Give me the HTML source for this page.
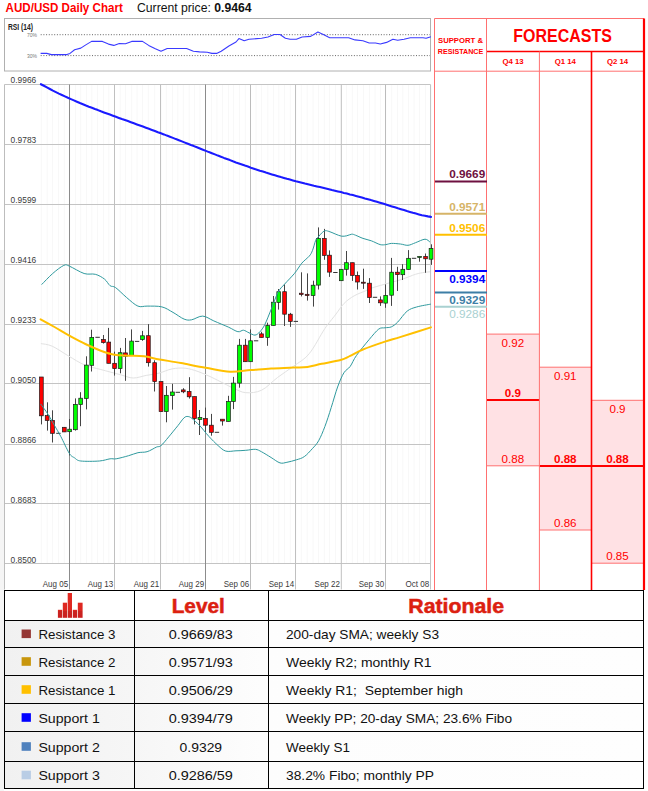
<!DOCTYPE html>
<html><head><meta charset="utf-8"><title>AUD/USD Daily Chart</title>
<style>
html,body{margin:0;padding:0;background:#fff;}
body{width:648px;height:791px;position:relative;overflow:hidden;font-family:"Liberation Sans",Arial,sans-serif;}
svg{position:absolute;left:0;top:0;display:block;}
svg text{font-family:"Liberation Sans",Arial,sans-serif;}
</style></head><body>
<svg width="648" height="791" viewBox="0 0 648 791">

<rect x="0" y="250" width="4" height="541" fill="#f5f5f5"/>
<text x="5.6" y="12.4" font-size="12.4" font-weight="bold" fill="#ff0000" textLength="117.2" lengthAdjust="spacingAndGlyphs">AUD/USD Daily Chart</text>
<text x="137" y="12.4" font-size="12.2" fill="#111">Current price: <tspan font-weight="bold">0.9464</tspan></text>
<rect x="4.5" y="18.5" width="426" height="52.5" fill="#fff" stroke="#b0b0b0" stroke-width="1"/>
<text x="7.9" y="29.8" font-size="8.2" font-weight="bold" fill="#222" textLength="25" lengthAdjust="spacingAndGlyphs">RSI (14)</text>
<text x="27" y="37" font-size="5.8" fill="#777" textLength="10" lengthAdjust="spacingAndGlyphs">70%</text>
<text x="27" y="58.1" font-size="5.8" fill="#777" textLength="10" lengthAdjust="spacingAndGlyphs">30%</text>
<line x1="40.7" y1="34.7" x2="430" y2="34.7" stroke="#555" stroke-width="0.9" stroke-dasharray="1,1.7"/>
<line x1="40.7" y1="55.6" x2="430" y2="55.6" stroke="#555" stroke-width="0.9" stroke-dasharray="1,1.7"/>
<polyline points="40.6,53.4 46.8,53.4 51.4,54.6 66.9,54.6 70.0,53.4 74.6,49.7 80.8,48.1 85.4,45.1 91.6,41.4 102.4,41.4 108.5,44.1 113.8,45.4 119.3,43.5 125.5,43.8 131.7,41.4 142.5,41.4 148.7,45.4 154.8,48.5 161.0,51.2 167.2,48.5 186.6,48.5 193.4,51.2 199.6,51.9 207.3,52.2 211.9,53.4 216.6,53.4 221.2,51.2 228.9,46.0 236.0,42.0 238.9,38.6 244.2,40.8 249.0,39.2 261.6,38.3 268.0,37.0 274.3,34.5 280.0,34.5 285.4,38.3 290.1,39.2 296.4,39.2 302.1,37.0 310.7,36.4 317.9,32.0 323.3,34.5 329.7,37.7 340.7,37.7 348.6,37.7 355.0,39.9 362.9,40.8 369.2,43.0 375.5,43.0 380.3,44.0 386.6,42.4 392.9,39.2 397.7,40.2 404.0,39.2 410.3,37.7 423.0,37.7 426.1,38.3 430.9,36.7" fill="none" stroke="#3a3aff" stroke-width="1.1" stroke-linejoin="round"/>
<rect x="4.5" y="84.5" width="426" height="505" fill="#fff"/>
<line x1="41.35" y1="84.5" x2="41.35" y2="563.5" stroke="#f8f8f8" stroke-width="1"/>
<line x1="47.15" y1="84.5" x2="47.15" y2="563.5" stroke="#f8f8f8" stroke-width="1"/>
<line x1="52.50" y1="84.5" x2="52.50" y2="563.5" stroke="#f8f8f8" stroke-width="1"/>
<line x1="58.40" y1="84.5" x2="58.40" y2="563.5" stroke="#f8f8f8" stroke-width="1"/>
<line x1="64.30" y1="84.5" x2="64.30" y2="563.5" stroke="#f8f8f8" stroke-width="1"/>
<line x1="69.65" y1="84.5" x2="69.65" y2="563.5" stroke="#f8f8f8" stroke-width="1"/>
<line x1="75.40" y1="84.5" x2="75.40" y2="563.5" stroke="#f8f8f8" stroke-width="1"/>
<line x1="80.70" y1="84.5" x2="80.70" y2="563.5" stroke="#f8f8f8" stroke-width="1"/>
<line x1="86.40" y1="84.5" x2="86.40" y2="563.5" stroke="#f8f8f8" stroke-width="1"/>
<line x1="91.75" y1="84.5" x2="91.75" y2="563.5" stroke="#f8f8f8" stroke-width="1"/>
<line x1="97.62" y1="84.5" x2="97.62" y2="563.5" stroke="#f8f8f8" stroke-width="1"/>
<line x1="103.50" y1="84.5" x2="103.50" y2="563.5" stroke="#f8f8f8" stroke-width="1"/>
<line x1="108.75" y1="84.5" x2="108.75" y2="563.5" stroke="#f8f8f8" stroke-width="1"/>
<line x1="114.60" y1="84.5" x2="114.60" y2="563.5" stroke="#f8f8f8" stroke-width="1"/>
<line x1="120.15" y1="84.5" x2="120.15" y2="563.5" stroke="#f8f8f8" stroke-width="1"/>
<line x1="125.45" y1="84.5" x2="125.45" y2="563.5" stroke="#f8f8f8" stroke-width="1"/>
<line x1="131.65" y1="84.5" x2="131.65" y2="563.5" stroke="#f8f8f8" stroke-width="1"/>
<line x1="137.07" y1="84.5" x2="137.07" y2="563.5" stroke="#f8f8f8" stroke-width="1"/>
<line x1="142.50" y1="84.5" x2="142.50" y2="563.5" stroke="#f8f8f8" stroke-width="1"/>
<line x1="148.35" y1="84.5" x2="148.35" y2="563.5" stroke="#f8f8f8" stroke-width="1"/>
<line x1="154.70" y1="84.5" x2="154.70" y2="563.5" stroke="#f8f8f8" stroke-width="1"/>
<line x1="161.05" y1="84.5" x2="161.05" y2="563.5" stroke="#f8f8f8" stroke-width="1"/>
<line x1="166.35" y1="84.5" x2="166.35" y2="563.5" stroke="#f8f8f8" stroke-width="1"/>
<line x1="172.40" y1="84.5" x2="172.40" y2="563.5" stroke="#f8f8f8" stroke-width="1"/>
<line x1="177.82" y1="84.5" x2="177.82" y2="563.5" stroke="#f8f8f8" stroke-width="1"/>
<line x1="183.25" y1="84.5" x2="183.25" y2="563.5" stroke="#f8f8f8" stroke-width="1"/>
<line x1="189.15" y1="84.5" x2="189.15" y2="563.5" stroke="#f8f8f8" stroke-width="1"/>
<line x1="194.55" y1="84.5" x2="194.55" y2="563.5" stroke="#f8f8f8" stroke-width="1"/>
<line x1="199.95" y1="84.5" x2="199.95" y2="563.5" stroke="#f8f8f8" stroke-width="1"/>
<line x1="205.50" y1="84.5" x2="205.50" y2="563.5" stroke="#f8f8f8" stroke-width="1"/>
<line x1="211.40" y1="84.5" x2="211.40" y2="563.5" stroke="#f8f8f8" stroke-width="1"/>
<line x1="216.95" y1="84.5" x2="216.95" y2="563.5" stroke="#f8f8f8" stroke-width="1"/>
<line x1="222.50" y1="84.5" x2="222.50" y2="563.5" stroke="#f8f8f8" stroke-width="1"/>
<line x1="228.45" y1="84.5" x2="228.45" y2="563.5" stroke="#f8f8f8" stroke-width="1"/>
<line x1="233.50" y1="84.5" x2="233.50" y2="563.5" stroke="#f8f8f8" stroke-width="1"/>
<line x1="239.55" y1="84.5" x2="239.55" y2="563.5" stroke="#f8f8f8" stroke-width="1"/>
<line x1="245.35" y1="84.5" x2="245.35" y2="563.5" stroke="#f8f8f8" stroke-width="1"/>
<line x1="250.60" y1="84.5" x2="250.60" y2="563.5" stroke="#f8f8f8" stroke-width="1"/>
<line x1="256.07" y1="84.5" x2="256.07" y2="563.5" stroke="#f8f8f8" stroke-width="1"/>
<line x1="261.55" y1="84.5" x2="261.55" y2="563.5" stroke="#f8f8f8" stroke-width="1"/>
<line x1="267.75" y1="84.5" x2="267.75" y2="563.5" stroke="#f8f8f8" stroke-width="1"/>
<line x1="273.45" y1="84.5" x2="273.45" y2="563.5" stroke="#f8f8f8" stroke-width="1"/>
<line x1="278.75" y1="84.5" x2="278.75" y2="563.5" stroke="#f8f8f8" stroke-width="1"/>
<line x1="284.60" y1="84.5" x2="284.60" y2="563.5" stroke="#f8f8f8" stroke-width="1"/>
<line x1="290.35" y1="84.5" x2="290.35" y2="563.5" stroke="#f8f8f8" stroke-width="1"/>
<line x1="295.80" y1="84.5" x2="295.80" y2="563.5" stroke="#f8f8f8" stroke-width="1"/>
<line x1="301.25" y1="84.5" x2="301.25" y2="563.5" stroke="#f8f8f8" stroke-width="1"/>
<line x1="307.15" y1="84.5" x2="307.15" y2="563.5" stroke="#f8f8f8" stroke-width="1"/>
<line x1="313.10" y1="84.5" x2="313.10" y2="563.5" stroke="#f8f8f8" stroke-width="1"/>
<line x1="318.50" y1="84.5" x2="318.50" y2="563.5" stroke="#f8f8f8" stroke-width="1"/>
<line x1="324.35" y1="84.5" x2="324.35" y2="563.5" stroke="#f8f8f8" stroke-width="1"/>
<line x1="329.50" y1="84.5" x2="329.50" y2="563.5" stroke="#f8f8f8" stroke-width="1"/>
<line x1="335.38" y1="84.5" x2="335.38" y2="563.5" stroke="#f8f8f8" stroke-width="1"/>
<line x1="341.25" y1="84.5" x2="341.25" y2="563.5" stroke="#f8f8f8" stroke-width="1"/>
<line x1="346.45" y1="84.5" x2="346.45" y2="563.5" stroke="#f8f8f8" stroke-width="1"/>
<line x1="352.35" y1="84.5" x2="352.35" y2="563.5" stroke="#f8f8f8" stroke-width="1"/>
<line x1="357.55" y1="84.5" x2="357.55" y2="563.5" stroke="#f8f8f8" stroke-width="1"/>
<line x1="363.40" y1="84.5" x2="363.40" y2="563.5" stroke="#f8f8f8" stroke-width="1"/>
<line x1="369.50" y1="84.5" x2="369.50" y2="563.5" stroke="#f8f8f8" stroke-width="1"/>
<line x1="375.00" y1="84.5" x2="375.00" y2="563.5" stroke="#f8f8f8" stroke-width="1"/>
<line x1="380.50" y1="84.5" x2="380.50" y2="563.5" stroke="#f8f8f8" stroke-width="1"/>
<line x1="385.70" y1="84.5" x2="385.70" y2="563.5" stroke="#f8f8f8" stroke-width="1"/>
<line x1="391.65" y1="84.5" x2="391.65" y2="563.5" stroke="#f8f8f8" stroke-width="1"/>
<line x1="397.50" y1="84.5" x2="397.50" y2="563.5" stroke="#f8f8f8" stroke-width="1"/>
<line x1="402.80" y1="84.5" x2="402.80" y2="563.5" stroke="#f8f8f8" stroke-width="1"/>
<line x1="408.55" y1="84.5" x2="408.55" y2="563.5" stroke="#f8f8f8" stroke-width="1"/>
<line x1="414.05" y1="84.5" x2="414.05" y2="563.5" stroke="#f8f8f8" stroke-width="1"/>
<line x1="419.55" y1="84.5" x2="419.55" y2="563.5" stroke="#f8f8f8" stroke-width="1"/>
<line x1="425.60" y1="84.5" x2="425.60" y2="563.5" stroke="#f8f8f8" stroke-width="1"/>
<line x1="431.05" y1="84.5" x2="431.05" y2="563.5" stroke="#f8f8f8" stroke-width="1"/>
<line x1="4.5" y1="84.50" x2="430.5" y2="84.50" stroke="#c4c4c4" stroke-width="1"/>
<text x="10.6" y="82.80" font-size="8.5" fill="#3a3a3a" textLength="25.6" lengthAdjust="spacingAndGlyphs">0.9966</text>
<line x1="4.5" y1="144.50" x2="430.5" y2="144.50" stroke="#c4c4c4" stroke-width="1"/>
<text x="10.6" y="142.77" font-size="8.5" fill="#3a3a3a" textLength="25.6" lengthAdjust="spacingAndGlyphs">0.9783</text>
<line x1="4.5" y1="204.50" x2="430.5" y2="204.50" stroke="#c4c4c4" stroke-width="1"/>
<text x="10.6" y="202.74" font-size="8.5" fill="#3a3a3a" textLength="25.6" lengthAdjust="spacingAndGlyphs">0.9599</text>
<line x1="4.5" y1="264.50" x2="430.5" y2="264.50" stroke="#c4c4c4" stroke-width="1"/>
<text x="10.6" y="262.71" font-size="8.5" fill="#3a3a3a" textLength="25.6" lengthAdjust="spacingAndGlyphs">0.9416</text>
<line x1="4.5" y1="324.50" x2="430.5" y2="324.50" stroke="#c4c4c4" stroke-width="1"/>
<text x="10.6" y="322.68" font-size="8.5" fill="#3a3a3a" textLength="25.6" lengthAdjust="spacingAndGlyphs">0.9233</text>
<line x1="4.5" y1="383.50" x2="430.5" y2="383.50" stroke="#c4c4c4" stroke-width="1"/>
<text x="10.6" y="382.65" font-size="8.5" fill="#3a3a3a" textLength="25.6" lengthAdjust="spacingAndGlyphs">0.9050</text>
<line x1="4.5" y1="444.50" x2="430.5" y2="444.50" stroke="#c4c4c4" stroke-width="1"/>
<text x="10.6" y="442.62" font-size="8.5" fill="#3a3a3a" textLength="25.6" lengthAdjust="spacingAndGlyphs">0.8866</text>
<line x1="4.5" y1="503.50" x2="430.5" y2="503.50" stroke="#c4c4c4" stroke-width="1"/>
<text x="10.6" y="502.59" font-size="8.5" fill="#3a3a3a" textLength="25.6" lengthAdjust="spacingAndGlyphs">0.8683</text>
<line x1="4.5" y1="563.50" x2="430.5" y2="563.50" stroke="#c4c4c4" stroke-width="1"/>
<text x="10.6" y="562.56" font-size="8.5" fill="#3a3a3a" textLength="25.6" lengthAdjust="spacingAndGlyphs">0.8500</text>
<line x1="69.50" y1="84.5" x2="69.50" y2="589.5" stroke="#8c8c8c" stroke-width="1"/>
<line x1="114.50" y1="84.5" x2="114.50" y2="589.5" stroke="#c0c0c0" stroke-width="1"/>
<line x1="160.50" y1="84.5" x2="160.50" y2="589.5" stroke="#c0c0c0" stroke-width="1"/>
<line x1="205.50" y1="84.5" x2="205.50" y2="589.5" stroke="#8c8c8c" stroke-width="1"/>
<line x1="250.50" y1="84.5" x2="250.50" y2="589.5" stroke="#bcbcbc" stroke-width="1"/>
<line x1="295.50" y1="84.5" x2="295.50" y2="589.5" stroke="#c0c0c0" stroke-width="1"/>
<line x1="341.30" y1="84.5" x2="341.30" y2="589.5" stroke="#c0c0c0" stroke-width="1"/>
<line x1="385.50" y1="84.5" x2="385.50" y2="589.5" stroke="#bcbcbc" stroke-width="1"/>
<text x="68.10" y="586.8" font-size="9" fill="#3a3a3a" text-anchor="end" textLength="25.3" lengthAdjust="spacingAndGlyphs">Aug 05</text>
<text x="113.10" y="586.8" font-size="9" fill="#3a3a3a" text-anchor="end" textLength="25.3" lengthAdjust="spacingAndGlyphs">Aug 13</text>
<text x="159.10" y="586.8" font-size="9" fill="#3a3a3a" text-anchor="end" textLength="25.3" lengthAdjust="spacingAndGlyphs">Aug 21</text>
<text x="204.10" y="586.8" font-size="9" fill="#3a3a3a" text-anchor="end" textLength="25.3" lengthAdjust="spacingAndGlyphs">Aug 29</text>
<text x="249.10" y="586.8" font-size="9" fill="#3a3a3a" text-anchor="end" textLength="25.3" lengthAdjust="spacingAndGlyphs">Sep 06</text>
<text x="294.10" y="586.8" font-size="9" fill="#3a3a3a" text-anchor="end" textLength="25.3" lengthAdjust="spacingAndGlyphs">Sep 14</text>
<text x="339.90" y="586.8" font-size="9" fill="#3a3a3a" text-anchor="end" textLength="25.3" lengthAdjust="spacingAndGlyphs">Sep 22</text>
<text x="384.10" y="586.8" font-size="9" fill="#3a3a3a" text-anchor="end" textLength="25.3" lengthAdjust="spacingAndGlyphs">Sep 30</text>
<text x="429.20" y="586.8" font-size="9" fill="#3a3a3a" text-anchor="end" textLength="23.8" lengthAdjust="spacingAndGlyphs">Oct 08</text>
<line x1="4.5" y1="84.5" x2="4.5" y2="589.5" stroke="#bdbdbd" stroke-width="1"/>
<line x1="430.5" y1="84.5" x2="430.5" y2="589.5" stroke="#c4c4c4" stroke-width="1"/>
<path d="M40.9,343.6 C42.8,344.0 47.6,344.1 52.2,346.2 C56.8,348.2 63.0,352.8 68.4,355.9 C73.8,359.0 79.2,362.7 84.6,365.0 C90.0,367.3 94.8,367.9 100.8,369.5 C106.8,371.1 114.9,373.3 120.3,374.7 C125.7,376.1 128.9,377.9 133.2,378.0 C137.5,378.1 141.9,376.2 146.2,375.4 C150.5,374.6 154.8,374.2 159.1,373.1 C163.4,372.0 167.8,369.7 172.1,368.9 C176.4,368.1 180.8,367.8 185.1,368.2 C189.4,368.6 193.7,370.0 198.0,371.5 C202.3,373.0 206.7,375.0 211.0,377.0 C215.3,379.0 220.2,381.6 224.0,383.5 C227.8,385.4 230.1,386.8 233.7,388.3 C237.3,389.8 241.2,392.4 245.8,392.7 C250.5,393.0 256.3,392.7 261.6,390.2 C266.9,387.7 272.2,381.5 277.5,377.5 C282.8,373.5 288.0,370.3 293.3,366.4 C298.6,362.4 303.8,360.1 309.1,353.8 C314.4,347.5 320.5,335.0 324.9,328.5 C329.3,322.0 332.1,319.2 335.3,315.0 C338.5,310.8 341.0,306.6 344.1,303.4 C347.2,300.2 350.6,297.9 354.2,295.8 C357.8,293.7 362.8,292.1 365.6,290.8 C368.5,289.5 368.2,289.3 371.3,288.2 C374.4,287.1 378.9,285.9 384.0,284.4 C389.1,282.9 396.4,281.1 401.6,279.4 C406.9,277.7 411.7,275.5 415.5,274.3 C419.3,273.1 422.0,272.8 424.4,272.4 C426.8,272.0 429.1,271.9 430.0,271.8" fill="none" stroke="#e2e2e2" stroke-width="1"/>
<line x1="41.50" y1="377.00" x2="41.50" y2="424.40" stroke="#444" stroke-width="1"/>
<rect x="39.45" y="377.00" width="3.8" height="38.80" fill="#ff0000" stroke="#1a1a1a" stroke-width="0.7"/>
<line x1="47.50" y1="402.30" x2="47.50" y2="430.60" stroke="#444" stroke-width="1"/>
<rect x="45.25" y="415.60" width="3.8" height="4.90" fill="#ff0000" stroke="#1a1a1a" stroke-width="0.7"/>
<line x1="52.50" y1="410.30" x2="52.50" y2="442.50" stroke="#444" stroke-width="1"/>
<rect x="50.60" y="420.40" width="3.8" height="12.90" fill="#ff0000" stroke="#1a1a1a" stroke-width="0.7"/>
<line x1="56.20" y1="433.30" x2="60.60" y2="433.30" stroke="#333" stroke-width="1"/>
<line x1="64.50" y1="427.30" x2="64.50" y2="431.90" stroke="#444" stroke-width="1"/>
<rect x="62.40" y="427.30" width="3.8" height="4.60" fill="#ff0000" stroke="#1a1a1a" stroke-width="0.7"/>
<line x1="69.50" y1="419.00" x2="69.50" y2="455.40" stroke="#444" stroke-width="1"/>
<rect x="67.75" y="429.20" width="3.8" height="2.50" fill="#00ff00" stroke="#1a1a1a" stroke-width="0.7"/>
<line x1="75.50" y1="398.40" x2="75.50" y2="430.60" stroke="#444" stroke-width="1"/>
<rect x="73.50" y="404.40" width="3.8" height="25.30" fill="#00ff00" stroke="#1a1a1a" stroke-width="0.7"/>
<line x1="80.50" y1="392.20" x2="80.50" y2="426.20" stroke="#444" stroke-width="1"/>
<rect x="78.80" y="398.20" width="3.8" height="6.40" fill="#00ff00" stroke="#1a1a1a" stroke-width="0.7"/>
<line x1="86.50" y1="356.30" x2="86.50" y2="409.40" stroke="#444" stroke-width="1"/>
<rect x="84.50" y="365.10" width="3.8" height="33.30" fill="#00ff00" stroke="#1a1a1a" stroke-width="0.7"/>
<line x1="91.50" y1="329.70" x2="91.50" y2="371.50" stroke="#444" stroke-width="1"/>
<rect x="89.85" y="337.40" width="3.8" height="27.90" fill="#00ff00" stroke="#1a1a1a" stroke-width="0.7"/>
<line x1="95.42" y1="337.30" x2="99.83" y2="337.30" stroke="#333" stroke-width="1"/>
<line x1="103.50" y1="335.00" x2="103.50" y2="343.60" stroke="#444" stroke-width="1"/>
<rect x="101.60" y="339.50" width="3.8" height="3.10" fill="#ff0000" stroke="#1a1a1a" stroke-width="0.7"/>
<line x1="108.50" y1="327.90" x2="108.50" y2="363.30" stroke="#444" stroke-width="1"/>
<rect x="106.85" y="342.10" width="3.8" height="21.20" fill="#ff0000" stroke="#1a1a1a" stroke-width="0.7"/>
<line x1="114.50" y1="351.70" x2="114.50" y2="375.60" stroke="#444" stroke-width="1"/>
<rect x="112.70" y="363.30" width="3.8" height="5.30" fill="#ff0000" stroke="#1a1a1a" stroke-width="0.7"/>
<line x1="120.50" y1="347.90" x2="120.50" y2="373.30" stroke="#444" stroke-width="1"/>
<rect x="118.25" y="352.70" width="3.8" height="15.90" fill="#00ff00" stroke="#1a1a1a" stroke-width="0.7"/>
<line x1="125.50" y1="338.00" x2="125.50" y2="380.80" stroke="#444" stroke-width="1"/>
<rect x="123.55" y="352.90" width="3.8" height="3.30" fill="#ff0000" stroke="#1a1a1a" stroke-width="0.7"/>
<line x1="131.50" y1="329.40" x2="131.50" y2="355.50" stroke="#444" stroke-width="1"/>
<rect x="129.75" y="341.10" width="3.8" height="14.40" fill="#00ff00" stroke="#1a1a1a" stroke-width="0.7"/>
<line x1="134.88" y1="341.40" x2="139.27" y2="341.40" stroke="#333" stroke-width="1"/>
<line x1="142.50" y1="330.90" x2="142.50" y2="340.80" stroke="#444" stroke-width="1"/>
<rect x="140.60" y="335.80" width="3.8" height="3.70" fill="#00ff00" stroke="#1a1a1a" stroke-width="0.7"/>
<line x1="148.50" y1="324.10" x2="148.50" y2="366.60" stroke="#444" stroke-width="1"/>
<rect x="146.45" y="335.70" width="3.8" height="27.00" fill="#ff0000" stroke="#1a1a1a" stroke-width="0.7"/>
<line x1="154.50" y1="360.30" x2="154.50" y2="391.50" stroke="#444" stroke-width="1"/>
<rect x="152.80" y="362.70" width="3.8" height="18.90" fill="#ff0000" stroke="#1a1a1a" stroke-width="0.7"/>
<line x1="161.50" y1="381.60" x2="161.50" y2="411.60" stroke="#444" stroke-width="1"/>
<rect x="159.15" y="381.60" width="3.8" height="30.00" fill="#ff0000" stroke="#1a1a1a" stroke-width="0.7"/>
<line x1="166.50" y1="386.00" x2="166.50" y2="422.30" stroke="#444" stroke-width="1"/>
<rect x="164.45" y="395.30" width="3.8" height="16.30" fill="#00ff00" stroke="#1a1a1a" stroke-width="0.7"/>
<line x1="172.50" y1="383.80" x2="172.50" y2="409.60" stroke="#444" stroke-width="1"/>
<rect x="170.50" y="392.00" width="3.8" height="3.60" fill="#00ff00" stroke="#1a1a1a" stroke-width="0.7"/>
<line x1="175.62" y1="392.30" x2="180.02" y2="392.30" stroke="#333" stroke-width="1"/>
<line x1="183.50" y1="388.20" x2="183.50" y2="393.20" stroke="#444" stroke-width="1"/>
<rect x="181.35" y="389.90" width="3.8" height="1.90" fill="#ff0000" stroke="#1a1a1a" stroke-width="0.7"/>
<line x1="189.50" y1="377.20" x2="189.50" y2="398.60" stroke="#444" stroke-width="1"/>
<rect x="187.25" y="391.50" width="3.8" height="5.30" fill="#ff0000" stroke="#1a1a1a" stroke-width="0.7"/>
<line x1="194.50" y1="396.60" x2="194.50" y2="424.40" stroke="#444" stroke-width="1"/>
<rect x="192.65" y="396.60" width="3.8" height="22.00" fill="#ff0000" stroke="#1a1a1a" stroke-width="0.7"/>
<line x1="199.50" y1="410.00" x2="199.50" y2="435.00" stroke="#444" stroke-width="1"/>
<rect x="198.05" y="417.50" width="3.8" height="2.00" fill="#00ff00" stroke="#1a1a1a" stroke-width="0.7"/>
<line x1="205.50" y1="407.60" x2="205.50" y2="431.90" stroke="#444" stroke-width="1"/>
<rect x="203.60" y="418.60" width="3.8" height="6.60" fill="#ff0000" stroke="#1a1a1a" stroke-width="0.7"/>
<line x1="211.50" y1="413.90" x2="211.50" y2="435.70" stroke="#444" stroke-width="1"/>
<rect x="209.50" y="425.20" width="3.8" height="7.10" fill="#ff0000" stroke="#1a1a1a" stroke-width="0.7"/>
<line x1="214.75" y1="432.30" x2="219.15" y2="432.30" stroke="#333" stroke-width="1"/>
<line x1="222.50" y1="419.20" x2="222.50" y2="425.60" stroke="#444" stroke-width="1"/>
<rect x="220.60" y="419.20" width="3.8" height="1.80" fill="#ff0000" stroke="#1a1a1a" stroke-width="0.7"/>
<line x1="228.50" y1="395.80" x2="228.50" y2="421.40" stroke="#444" stroke-width="1"/>
<rect x="226.55" y="401.50" width="3.8" height="19.90" fill="#00ff00" stroke="#1a1a1a" stroke-width="0.7"/>
<line x1="233.50" y1="376.90" x2="233.50" y2="409.10" stroke="#444" stroke-width="1"/>
<rect x="231.60" y="383.10" width="3.8" height="18.40" fill="#00ff00" stroke="#1a1a1a" stroke-width="0.7"/>
<line x1="239.50" y1="338.90" x2="239.50" y2="387.70" stroke="#444" stroke-width="1"/>
<rect x="237.65" y="345.20" width="3.8" height="37.90" fill="#00ff00" stroke="#1a1a1a" stroke-width="0.7"/>
<line x1="245.50" y1="338.90" x2="245.50" y2="361.70" stroke="#444" stroke-width="1"/>
<rect x="243.45" y="345.20" width="3.8" height="16.50" fill="#ff0000" stroke="#1a1a1a" stroke-width="0.7"/>
<line x1="250.50" y1="329.40" x2="250.50" y2="361.70" stroke="#444" stroke-width="1"/>
<rect x="248.70" y="340.80" width="3.8" height="20.90" fill="#00ff00" stroke="#1a1a1a" stroke-width="0.7"/>
<line x1="253.88" y1="340.80" x2="258.27" y2="340.80" stroke="#333" stroke-width="1"/>
<line x1="261.50" y1="331.80" x2="261.50" y2="337.50" stroke="#444" stroke-width="1"/>
<rect x="259.65" y="333.90" width="3.8" height="3.60" fill="#ff0000" stroke="#1a1a1a" stroke-width="0.7"/>
<line x1="267.50" y1="322.70" x2="267.50" y2="345.80" stroke="#444" stroke-width="1"/>
<rect x="265.85" y="325.50" width="3.8" height="12.00" fill="#00ff00" stroke="#1a1a1a" stroke-width="0.7"/>
<line x1="273.50" y1="296.00" x2="273.50" y2="325.50" stroke="#444" stroke-width="1"/>
<rect x="271.55" y="302.20" width="3.8" height="23.30" fill="#00ff00" stroke="#1a1a1a" stroke-width="0.7"/>
<line x1="278.50" y1="289.00" x2="278.50" y2="309.60" stroke="#444" stroke-width="1"/>
<rect x="276.85" y="291.70" width="3.8" height="10.80" fill="#00ff00" stroke="#1a1a1a" stroke-width="0.7"/>
<line x1="284.50" y1="284.40" x2="284.50" y2="326.00" stroke="#444" stroke-width="1"/>
<rect x="282.70" y="291.70" width="3.8" height="22.50" fill="#ff0000" stroke="#1a1a1a" stroke-width="0.7"/>
<line x1="290.50" y1="312.90" x2="290.50" y2="326.90" stroke="#444" stroke-width="1"/>
<rect x="288.45" y="314.20" width="3.8" height="7.20" fill="#ff0000" stroke="#1a1a1a" stroke-width="0.7"/>
<line x1="293.60" y1="321.40" x2="298.00" y2="321.40" stroke="#333" stroke-width="1"/>
<line x1="301.50" y1="272.30" x2="301.50" y2="296.40" stroke="#444" stroke-width="1"/>
<rect x="299.35" y="293.20" width="3.8" height="1.30" fill="#ff0000" stroke="#1a1a1a" stroke-width="0.7"/>
<line x1="307.50" y1="273.40" x2="307.50" y2="300.60" stroke="#444" stroke-width="1"/>
<rect x="305.25" y="294.30" width="3.8" height="1.30" fill="#ff0000" stroke="#1a1a1a" stroke-width="0.7"/>
<line x1="313.50" y1="280.70" x2="313.50" y2="306.60" stroke="#444" stroke-width="1"/>
<rect x="311.20" y="285.20" width="3.8" height="10.40" fill="#00ff00" stroke="#1a1a1a" stroke-width="0.7"/>
<line x1="318.50" y1="227.40" x2="318.50" y2="289.50" stroke="#444" stroke-width="1"/>
<rect x="316.60" y="238.40" width="3.8" height="46.70" fill="#00ff00" stroke="#1a1a1a" stroke-width="0.7"/>
<line x1="324.50" y1="228.90" x2="324.50" y2="259.80" stroke="#444" stroke-width="1"/>
<rect x="322.45" y="238.40" width="3.8" height="17.00" fill="#ff0000" stroke="#1a1a1a" stroke-width="0.7"/>
<line x1="329.50" y1="250.40" x2="329.50" y2="276.90" stroke="#444" stroke-width="1"/>
<rect x="327.60" y="255.20" width="3.8" height="16.90" fill="#ff0000" stroke="#1a1a1a" stroke-width="0.7"/>
<line x1="333.18" y1="272.50" x2="337.57" y2="272.50" stroke="#333" stroke-width="1"/>
<line x1="341.50" y1="269.30" x2="341.50" y2="280.70" stroke="#444" stroke-width="1"/>
<rect x="339.35" y="269.30" width="3.8" height="11.40" fill="#00ff00" stroke="#1a1a1a" stroke-width="0.7"/>
<line x1="346.50" y1="251.00" x2="346.50" y2="275.60" stroke="#444" stroke-width="1"/>
<rect x="344.55" y="262.70" width="3.8" height="6.60" fill="#00ff00" stroke="#1a1a1a" stroke-width="0.7"/>
<line x1="352.50" y1="262.70" x2="352.50" y2="280.90" stroke="#444" stroke-width="1"/>
<rect x="350.45" y="262.70" width="3.8" height="12.70" fill="#ff0000" stroke="#1a1a1a" stroke-width="0.7"/>
<line x1="357.50" y1="271.50" x2="357.50" y2="289.50" stroke="#444" stroke-width="1"/>
<rect x="355.65" y="275.40" width="3.8" height="6.60" fill="#ff0000" stroke="#1a1a1a" stroke-width="0.7"/>
<line x1="363.50" y1="268.70" x2="363.50" y2="288.90" stroke="#444" stroke-width="1"/>
<rect x="361.50" y="282.20" width="3.8" height="1.00" fill="#ff0000" stroke="#1a1a1a" stroke-width="0.7"/>
<line x1="369.50" y1="278.10" x2="369.50" y2="303.00" stroke="#444" stroke-width="1"/>
<rect x="367.60" y="283.20" width="3.8" height="14.30" fill="#ff0000" stroke="#1a1a1a" stroke-width="0.7"/>
<line x1="372.80" y1="297.30" x2="377.20" y2="297.30" stroke="#333" stroke-width="1"/>
<line x1="380.50" y1="296.40" x2="380.50" y2="305.90" stroke="#444" stroke-width="1"/>
<rect x="378.60" y="299.90" width="3.8" height="2.90" fill="#ff0000" stroke="#1a1a1a" stroke-width="0.7"/>
<line x1="385.50" y1="284.40" x2="385.50" y2="307.80" stroke="#444" stroke-width="1"/>
<rect x="383.80" y="295.40" width="3.8" height="7.70" fill="#00ff00" stroke="#1a1a1a" stroke-width="0.7"/>
<line x1="391.50" y1="257.90" x2="391.50" y2="305.90" stroke="#444" stroke-width="1"/>
<rect x="389.75" y="272.20" width="3.8" height="23.00" fill="#00ff00" stroke="#1a1a1a" stroke-width="0.7"/>
<line x1="397.50" y1="266.80" x2="397.50" y2="291.00" stroke="#444" stroke-width="1"/>
<rect x="395.60" y="272.20" width="3.8" height="2.40" fill="#ff0000" stroke="#1a1a1a" stroke-width="0.7"/>
<line x1="402.50" y1="264.20" x2="402.50" y2="280.00" stroke="#444" stroke-width="1"/>
<rect x="400.90" y="269.30" width="3.8" height="5.40" fill="#00ff00" stroke="#1a1a1a" stroke-width="0.7"/>
<line x1="408.50" y1="250.10" x2="408.50" y2="269.50" stroke="#444" stroke-width="1"/>
<rect x="406.65" y="258.30" width="3.8" height="11.20" fill="#00ff00" stroke="#1a1a1a" stroke-width="0.7"/>
<line x1="411.85" y1="258.30" x2="416.25" y2="258.30" stroke="#333" stroke-width="1"/>
<line x1="419.50" y1="256.40" x2="419.50" y2="261.70" stroke="#444" stroke-width="1"/>
<rect x="417.65" y="256.40" width="3.8" height="1.10" fill="#00ff00" stroke="#1a1a1a" stroke-width="0.7"/>
<line x1="425.50" y1="253.50" x2="425.50" y2="272.80" stroke="#444" stroke-width="1"/>
<rect x="423.70" y="256.40" width="3.8" height="2.40" fill="#ff0000" stroke="#1a1a1a" stroke-width="0.7"/>
<line x1="431.50" y1="244.30" x2="431.50" y2="264.90" stroke="#444" stroke-width="1"/>
<rect x="429.15" y="248.40" width="3.8" height="10.80" fill="#00ff00" stroke="#1a1a1a" stroke-width="0.7"/>
<path d="M41.6,284.6 C43.5,282.8 49.0,276.7 52.7,273.5 C56.4,270.3 61.0,266.6 63.8,265.4 C66.6,264.2 65.9,264.8 69.3,266.1 C72.7,267.5 79.8,272.1 84.1,273.5 C88.4,274.9 91.9,273.4 95.3,274.3 C98.7,275.2 102.0,277.2 104.5,279.1 C107.0,281.0 108.2,284.3 110.1,285.7 C111.9,287.1 112.8,285.6 115.6,287.6 C118.4,289.6 123.0,294.5 126.7,297.6 C130.4,300.7 134.5,304.7 137.9,306.1 C141.3,307.5 143.1,306.0 147.1,306.1 C151.1,306.2 157.6,305.8 161.9,306.9 C166.2,307.9 169.3,310.4 173.0,312.4 C176.7,314.4 181.0,317.9 184.1,319.1 C187.2,320.3 188.5,320.3 191.6,319.8 C194.7,319.3 199.0,315.9 202.7,316.1 C206.4,316.3 209.5,319.0 213.8,320.9 C218.1,322.8 224.6,325.4 228.6,327.2 C232.6,329.0 235.4,331.2 237.9,331.7 C240.4,332.2 241.6,330.0 243.4,330.2 C245.2,330.4 247.1,332.0 249.0,332.8 C250.9,333.6 253.2,335.3 255.0,335.1 C256.8,334.9 258.2,333.6 259.9,331.8 C261.5,330.0 263.0,328.2 264.9,324.4 C266.8,320.6 269.2,314.1 271.4,308.8 C273.6,303.5 275.8,296.4 278.0,292.3 C280.2,288.2 281.9,287.2 284.6,284.1 C287.4,281.0 291.6,276.9 294.5,273.4 C297.4,269.9 299.4,266.0 301.9,263.1 C304.3,260.2 307.4,258.3 309.2,256.2 C311.0,254.1 311.4,253.1 312.5,250.4 C313.6,247.8 314.8,242.4 315.7,240.3 C316.6,238.2 316.2,239.2 317.6,237.7 C319.0,236.2 322.0,232.2 323.9,231.2 C325.8,230.1 327.0,230.9 328.9,231.4 C330.8,231.9 333.2,233.2 335.3,234.0 C337.4,234.8 339.7,235.9 341.6,236.2 C343.5,236.5 344.9,236.1 346.6,235.8 C348.3,235.5 350.2,234.3 351.7,234.2 C353.2,234.1 353.6,234.5 355.5,235.2 C357.4,235.9 360.4,237.5 363.0,238.4 C365.6,239.3 368.4,239.8 371.3,240.8 C374.2,241.8 377.8,244.0 380.2,244.6 C382.6,245.2 383.9,244.8 385.8,244.6 C387.7,244.4 389.1,243.5 391.5,243.4 C393.9,243.3 397.6,243.7 400.4,244.0 C403.1,244.3 405.5,245.5 408.0,245.3 C410.5,245.1 412.7,243.7 415.5,242.7 C418.3,241.7 422.6,239.3 425.0,239.2 C427.4,239.1 429.2,241.6 430.0,242.1" fill="none" stroke="#2f9a9e" stroke-width="1"/>
<path d="M40.6,403.9 C41.9,405.7 46.0,411.1 48.3,414.7 C50.6,418.3 52.4,421.9 54.5,425.5 C56.6,429.1 58.2,431.7 60.7,436.3 C63.2,440.9 67.0,449.7 69.3,453.3 C71.6,456.9 72.7,456.6 74.6,457.9 C76.5,459.2 76.7,460.5 80.8,461.0 C84.9,461.5 94.4,461.4 99.3,461.0 C104.2,460.6 107.3,459.2 110.1,458.8 C112.9,458.4 113.1,459.3 116.2,458.8 C119.3,458.3 125.0,456.7 128.6,455.7 C132.2,454.7 134.8,453.4 137.9,452.7 C141.0,452.0 144.0,452.6 147.1,451.7 C150.2,450.8 154.1,448.1 156.4,447.1 C158.7,446.1 158.9,447.3 161.0,445.6 C163.1,443.9 165.9,440.2 168.7,436.9 C171.5,433.5 175.4,428.7 178.0,425.5 C180.6,422.3 182.4,419.3 184.1,417.8 C185.8,416.3 186.6,416.4 187.9,416.5 C189.2,416.6 190.0,416.9 191.9,418.4 C193.8,419.9 196.8,422.5 199.6,425.5 C202.4,428.5 205.7,432.9 208.8,436.3 C211.9,439.7 215.3,443.1 218.1,445.6 C220.9,448.1 222.8,450.2 225.8,451.1 C228.8,452.0 232.7,450.9 236.0,450.8 C239.3,450.7 242.6,450.6 245.8,450.3 C249.0,450.1 252.7,449.1 255.3,449.3 C257.9,449.6 259.0,450.4 261.6,451.8 C264.2,453.2 268.0,455.6 271.1,457.5 C274.2,459.4 277.4,462.1 280.0,462.9 C282.6,463.7 284.2,462.8 286.9,462.3 C289.6,461.8 293.5,460.8 296.4,459.8 C299.3,458.9 301.6,458.5 304.3,456.6 C307.0,454.8 309.9,451.3 312.3,448.7 C314.7,446.1 316.5,444.5 318.6,440.8 C320.7,437.1 322.8,432.0 324.9,426.5 C327.0,421.0 329.1,414.2 331.2,407.6 C333.3,401.0 335.5,392.8 337.6,387.0 C339.7,381.2 341.8,376.2 343.9,372.8 C346.0,369.4 348.1,369.3 350.2,366.4 C352.3,363.5 353.3,359.9 356.5,355.4 C359.7,350.9 365.5,343.9 369.2,339.5 C372.9,335.1 376.1,331.1 378.7,329.1 C381.3,327.2 382.9,328.2 385.0,327.8 C387.1,327.4 389.2,327.8 391.3,326.9 C393.4,325.9 395.1,324.7 397.7,322.1 C400.3,319.5 404.0,313.6 407.2,311.1 C410.4,308.6 412.7,308.2 416.6,307.0 C420.6,305.8 428.5,304.6 430.9,304.1" fill="none" stroke="#2f9a9e" stroke-width="1"/>
<path d="M40.6,319.3 C42.9,320.6 49.7,324.3 54.5,327.0 C59.3,329.7 64.1,332.8 69.3,335.6 C74.5,338.4 80.2,341.5 85.4,344.0 C90.7,346.5 95.9,348.9 100.8,350.7 C105.7,352.5 110.1,354.0 114.7,354.8 C119.3,355.6 123.7,355.4 128.6,355.7 C133.5,355.9 138.8,355.7 144.0,356.3 C149.2,356.9 153.3,358.3 159.5,359.4 C165.7,360.5 173.3,361.7 181.0,363.1 C188.7,364.5 197.5,366.3 205.7,367.7 C213.9,369.1 222.5,371.3 230.0,371.7 C237.5,372.1 243.8,370.6 250.6,370.1 C257.4,369.6 264.0,368.9 271.1,368.5 C278.2,368.1 287.2,367.9 293.3,367.6 C299.4,367.3 302.8,367.5 307.5,366.9 C312.2,366.3 316.2,364.9 321.7,363.8 C327.2,362.7 335.9,361.3 340.7,360.0 C345.4,358.7 346.5,357.6 350.2,355.9 C353.9,354.1 357.1,351.9 362.9,349.5 C368.7,347.1 378.7,343.7 385.0,341.6 C391.3,339.5 393.2,339.3 400.8,336.9 C408.4,334.5 425.9,329.0 430.9,327.4" fill="none" stroke="#ffc000" stroke-width="2.0" stroke-linecap="round"/>
<polyline points="40.9,84.2 43.9,85.8 46.9,87.4 49.9,89.0 52.9,90.6 55.9,92.1 58.9,93.6 61.9,95.0 64.9,96.4 67.9,97.8 70.9,99.1 73.9,100.4 76.9,101.7 79.9,103.0 82.9,104.2 85.9,105.5 88.9,106.7 91.9,107.8 94.9,109.0 97.9,110.1 100.9,111.3 103.9,112.4 106.9,113.5 109.9,114.6 112.9,115.7 115.9,116.8 118.9,117.9 121.9,119.0 124.9,120.0 127.9,121.1 130.9,122.2 133.9,123.3 136.9,124.4 139.9,125.5 142.9,126.6 145.9,127.7 148.9,128.8 151.9,129.9 154.9,131.0 157.9,132.2 160.9,133.3 163.9,134.4 166.9,135.6 169.9,136.7 172.9,137.9 175.9,139.1 178.9,140.2 181.9,141.4 184.9,142.6 187.9,143.8 190.9,145.0 193.9,146.1 196.9,147.3 199.9,148.5 202.9,149.7 205.9,150.9 208.9,152.1 211.9,153.2 214.9,154.4 217.9,155.6 220.9,156.7 223.9,157.9 226.9,159.0 229.9,160.1 232.9,161.3 235.9,162.4 238.9,163.4 241.9,164.5 244.9,165.6 247.9,166.6 250.9,167.7 253.9,168.7 256.9,169.7 259.9,170.7 262.9,171.6 265.9,172.6 268.9,173.5 271.9,174.4 274.9,175.3 277.9,176.2 280.9,177.1 283.9,177.9 286.9,178.8 289.9,179.6 292.9,180.4 295.9,181.2 298.9,181.9 301.9,182.7 304.9,183.5 307.9,184.2 310.9,184.9 313.9,185.7 316.9,186.4 319.9,187.1 322.9,187.8 325.9,188.5 328.9,189.2 331.9,190.0 334.9,190.7 337.9,191.4 340.9,192.1 343.9,192.9 346.9,193.6 349.9,194.4 352.9,195.1 355.9,195.9 358.9,196.7 361.9,197.5 364.9,198.4 367.9,199.2 370.9,200.1 373.9,200.9 376.9,201.8 379.9,202.7 382.9,203.6 385.9,204.5 388.9,205.5 391.9,206.4 394.9,207.3 397.9,208.3 400.9,209.2 403.9,210.1 406.9,211.1 409.9,211.9 412.9,212.8 415.9,213.6 418.9,214.4 421.9,215.2 424.9,215.8 427.9,216.4 430.9,216.9 431.0,216.9" fill="none" stroke="#1a1aff" stroke-width="2.1" stroke-linecap="round" stroke-linejoin="round"/>
<rect x="486.5" y="334.1" width="52.9" height="131.7" fill="#ffe1e4"/>
<rect x="539.4" y="367.2" width="52.1" height="162.8" fill="#ffe1e4"/>
<rect x="591.5" y="400.3" width="52.0" height="162.9" fill="#ffe1e4"/>
<line x1="486.5" y1="334.1" x2="539.4" y2="334.1" stroke="#ff7070" stroke-width="1.0"/>
<line x1="486.5" y1="465.8" x2="539.4" y2="465.8" stroke="#ff7070" stroke-width="1.0"/>
<line x1="539.4" y1="367.2" x2="591.5" y2="367.2" stroke="#ff7070" stroke-width="1.0"/>
<line x1="539.4" y1="530.0" x2="591.5" y2="530.0" stroke="#ff7070" stroke-width="1.0"/>
<line x1="591.5" y1="400.3" x2="643.5" y2="400.3" stroke="#ff7070" stroke-width="1.0"/>
<line x1="591.5" y1="563.2" x2="643.5" y2="563.2" stroke="#ff7070" stroke-width="1.0"/>
<line x1="486.5" y1="400.0" x2="539.4" y2="400.0" stroke="#ff0000" stroke-width="2.2"/>
<line x1="539.4" y1="466.0" x2="644.0" y2="466.0" stroke="#ff0000" stroke-width="2.2"/>
<line x1="434.5" y1="18.5" x2="644.0" y2="18.5" stroke="#ff7070" stroke-width="1.0"/>
<line x1="486.5" y1="51.5" x2="644.0" y2="51.5" stroke="#ff0000" stroke-width="1.6"/>
<line x1="434.5" y1="71.2" x2="644.0" y2="71.2" stroke="#ff7070" stroke-width="1.0"/>
<line x1="434.5" y1="18.5" x2="434.5" y2="590.0" stroke="#ff7070" stroke-width="1.0"/>
<line x1="486.5" y1="18.5" x2="486.5" y2="590.0" stroke="#ff7070" stroke-width="1.0"/>
<line x1="539.4" y1="51.5" x2="539.4" y2="590.0" stroke="#ff7070" stroke-width="1.0"/>
<line x1="591.5" y1="51.5" x2="591.5" y2="590.0" stroke="#ff0000" stroke-width="1.6"/>
<line x1="644.0" y1="18.5" x2="644.0" y2="590.0" stroke="#ff0000" stroke-width="2.2"/>
<text x="460.5" y="43" font-size="7.4" font-weight="bold" fill="#ff0000" text-anchor="middle" textLength="45" lengthAdjust="spacingAndGlyphs">SUPPORT &amp;</text>
<text x="460.5" y="54.2" font-size="7.4" font-weight="bold" fill="#ff0000" text-anchor="middle" textLength="45.5" lengthAdjust="spacingAndGlyphs">RESISTANCE</text>
<text x="513.3" y="42.3" font-size="18.2" font-weight="bold" fill="#ff0000" textLength="98.5" lengthAdjust="spacingAndGlyphs">FORECASTS</text>
<text x="513.0" y="64.3" font-size="7.8" font-weight="bold" fill="#ff0000" text-anchor="middle">Q4 13</text>
<text x="565.3" y="64.3" font-size="7.8" font-weight="bold" fill="#ff0000" text-anchor="middle">Q1 14</text>
<text x="617.5" y="64.3" font-size="7.8" font-weight="bold" fill="#ff0000" text-anchor="middle">Q2 14</text>
<line x1="435" y1="181.6" x2="487" y2="181.6" stroke="#6e1040" stroke-width="2"/>
<text x="485.2" y="178.4" font-size="11.4" font-weight="bold" fill="#6e1040" text-anchor="end" textLength="36" lengthAdjust="spacingAndGlyphs">0.9669</text>
<line x1="435" y1="213.8" x2="487" y2="213.8" stroke="#d6b468" stroke-width="2"/>
<text x="485.2" y="210.8" font-size="11.4" font-weight="bold" fill="#d6b468" text-anchor="end" textLength="36" lengthAdjust="spacingAndGlyphs">0.9571</text>
<line x1="435" y1="234.8" x2="487" y2="234.8" stroke="#ffc000" stroke-width="2"/>
<text x="485.2" y="231.8" font-size="11.4" font-weight="bold" fill="#ffc000" text-anchor="end" textLength="36" lengthAdjust="spacingAndGlyphs">0.9506</text>
<line x1="435" y1="271.1" x2="487" y2="271.1" stroke="#0000ff" stroke-width="2"/>
<text x="485.2" y="283.2" font-size="11.4" font-weight="bold" fill="#0000ff" text-anchor="end" textLength="36" lengthAdjust="spacingAndGlyphs">0.9394</text>
<line x1="435" y1="292.4" x2="487" y2="292.4" stroke="#3d7ea6" stroke-width="2"/>
<text x="485.2" y="304.3" font-size="11.4" font-weight="bold" fill="#3d7ea6" text-anchor="end" textLength="36" lengthAdjust="spacingAndGlyphs">0.9329</text>
<line x1="435" y1="306.8" x2="487" y2="306.8" stroke="#a9d1d1" stroke-width="2"/>
<text x="485.2" y="318.3" font-size="11.4" font-weight="normal" fill="#a9d1d1" text-anchor="end" textLength="36" lengthAdjust="spacingAndGlyphs">0.9286</text>
<text x="512.9" y="346.8" font-size="11.6" font-weight="normal" fill="#ff0000" text-anchor="middle">0.92</text>
<text x="512.9" y="397.1" font-size="11.6" font-weight="bold" fill="#ff0000" text-anchor="middle">0.9</text>
<text x="512.9" y="462.6" font-size="11.6" font-weight="normal" fill="#ff0000" text-anchor="middle">0.88</text>
<text x="565.3" y="379.6" font-size="11.6" font-weight="normal" fill="#ff0000" text-anchor="middle">0.91</text>
<text x="565.3" y="462.8" font-size="11.6" font-weight="bold" fill="#ff0000" text-anchor="middle">0.88</text>
<text x="565.3" y="527.4" font-size="11.6" font-weight="normal" fill="#ff0000" text-anchor="middle">0.86</text>
<text x="617.5" y="412.7" font-size="11.6" font-weight="normal" fill="#ff0000" text-anchor="middle">0.9</text>
<text x="617.5" y="462.8" font-size="11.6" font-weight="bold" fill="#ff0000" text-anchor="middle">0.88</text>
<text x="617.5" y="560.3" font-size="11.6" font-weight="normal" fill="#ff0000" text-anchor="middle">0.85</text>
<defs><linearGradient id="lg" x1="0" y1="0" x2="1" y2="0"><stop offset="0" stop-color="#f1f1f1"/><stop offset="0.2" stop-color="#f6f6f6"/><stop offset="0.4" stop-color="#fdfdfd"/><stop offset="1" stop-color="#fefefe"/></linearGradient></defs>
<rect x="4.5" y="590.5" width="639.0" height="198.0" fill="url(#lg)" stroke="#000" stroke-width="1"/>
<rect x="5" y="591" width="638" height="29" fill="#fff"/>
<line x1="4.5" y1="620.5" x2="643.5" y2="620.5" stroke="#000" stroke-width="1"/>
<line x1="4.5" y1="647.5" x2="643.5" y2="647.5" stroke="#000" stroke-width="1"/>
<line x1="4.5" y1="675.5" x2="643.5" y2="675.5" stroke="#000" stroke-width="1"/>
<line x1="4.5" y1="703.5" x2="643.5" y2="703.5" stroke="#000" stroke-width="1"/>
<line x1="4.5" y1="731.5" x2="643.5" y2="731.5" stroke="#000" stroke-width="1"/>
<line x1="4.5" y1="761.5" x2="643.5" y2="761.5" stroke="#000" stroke-width="1"/>
<line x1="134.5" y1="590.5" x2="134.5" y2="788.5" stroke="#000" stroke-width="1"/>
<line x1="268.5" y1="590.5" x2="268.5" y2="788.5" stroke="#000" stroke-width="1"/>
<defs><linearGradient id="bg" gradientUnits="userSpaceOnUse" x1="0" y1="593" x2="0" y2="618"><stop offset="0" stop-color="#e32a22"/><stop offset="0.7" stop-color="#dc2620"/><stop offset="0.74" stop-color="#c92420"/><stop offset="1" stop-color="#cc1e1e"/></linearGradient></defs>
<rect x="57.9" y="609.8" width="4.3" height="8.0" fill="url(#bg)"/>
<rect x="62.8" y="602.7" width="4.3" height="15.1" fill="url(#bg)"/>
<rect x="67.7" y="593.0" width="4.3" height="24.8" fill="url(#bg)"/>
<rect x="72.8" y="609.8" width="4.3" height="8.0" fill="url(#bg)"/>
<rect x="77.8" y="602.7" width="4.8" height="15.1" fill="url(#bg)"/>
<text x="171.7" y="612.8" font-size="20" font-weight="bold" fill="#dc2010" stroke="#dc2010" stroke-width="0.5" textLength="53.1" lengthAdjust="spacingAndGlyphs">Level</text>
<text x="408.3" y="612.6" font-size="20" font-weight="bold" fill="#dc2010" stroke="#dc2010" stroke-width="0.5" textLength="95.8" lengthAdjust="spacingAndGlyphs">Rationale</text>
<rect x="21.6" y="629.5" width="9.3" height="8.6" fill="#953735"/>
<text x="38.4" y="639.0" font-size="13.5" fill="#111" textLength="77.1" lengthAdjust="spacingAndGlyphs">Resistance 3</text>
<text x="168.7" y="639.0" font-size="13.5" fill="#111" textLength="64.2" lengthAdjust="spacingAndGlyphs">0.9669/83</text>
<text x="286" y="639.0" font-size="13.5" fill="#111" style="white-space:pre" textLength="153.0" lengthAdjust="spacingAndGlyphs">200-day SMA; weekly S3</text>
<rect x="21.6" y="657.2" width="9.3" height="8.6" fill="#c8960c"/>
<text x="38.4" y="666.7" font-size="13.5" fill="#111" textLength="77.1" lengthAdjust="spacingAndGlyphs">Resistance 2</text>
<text x="168.7" y="666.7" font-size="13.5" fill="#111" textLength="64.2" lengthAdjust="spacingAndGlyphs">0.9571/93</text>
<text x="286" y="666.7" font-size="13.5" fill="#111" style="white-space:pre" textLength="145.5" lengthAdjust="spacingAndGlyphs">Weekly R2; monthly R1</text>
<rect x="21.6" y="685.2" width="9.3" height="8.6" fill="#ffc000"/>
<text x="38.4" y="694.7" font-size="13.5" fill="#111" textLength="77.1" lengthAdjust="spacingAndGlyphs">Resistance 1</text>
<text x="168.7" y="694.7" font-size="13.5" fill="#111" textLength="64.2" lengthAdjust="spacingAndGlyphs">0.9506/29</text>
<text x="286" y="694.7" font-size="13.5" fill="#111" style="white-space:pre" textLength="177.0" lengthAdjust="spacingAndGlyphs">Weekly R1;  September high</text>
<rect x="21.6" y="713.2" width="9.3" height="8.6" fill="#0000ff"/>
<text x="38.4" y="722.7" font-size="13.5" fill="#111" textLength="61.4" lengthAdjust="spacingAndGlyphs">Support 1</text>
<text x="168.7" y="722.7" font-size="13.5" fill="#111" textLength="64.2" lengthAdjust="spacingAndGlyphs">0.9394/79</text>
<text x="286" y="722.7" font-size="13.5" fill="#111" style="white-space:pre" textLength="226.0" lengthAdjust="spacingAndGlyphs">Weekly PP; 20-day SMA; 23.6% Fibo</text>
<rect x="21.6" y="742.2" width="9.3" height="8.6" fill="#4f81bd"/>
<text x="38.4" y="751.7" font-size="13.5" fill="#111" textLength="61.4" lengthAdjust="spacingAndGlyphs">Support 2</text>
<text x="179.6" y="751.7" font-size="13.5" fill="#111" textLength="42.5" lengthAdjust="spacingAndGlyphs">0.9329</text>
<text x="286" y="751.7" font-size="13.5" fill="#111" style="white-space:pre" textLength="64.0" lengthAdjust="spacingAndGlyphs">Weekly S1</text>
<rect x="21.6" y="770.7" width="9.3" height="8.6" fill="#b9cde5"/>
<text x="38.4" y="780.2" font-size="13.5" fill="#111" textLength="61.4" lengthAdjust="spacingAndGlyphs">Support 3</text>
<text x="168.7" y="780.2" font-size="13.5" fill="#111" textLength="64.2" lengthAdjust="spacingAndGlyphs">0.9286/59</text>
<text x="286" y="780.2" font-size="13.5" fill="#111" style="white-space:pre" textLength="148.0" lengthAdjust="spacingAndGlyphs">38.2% Fibo; monthly PP</text>
</svg>
</body></html>
